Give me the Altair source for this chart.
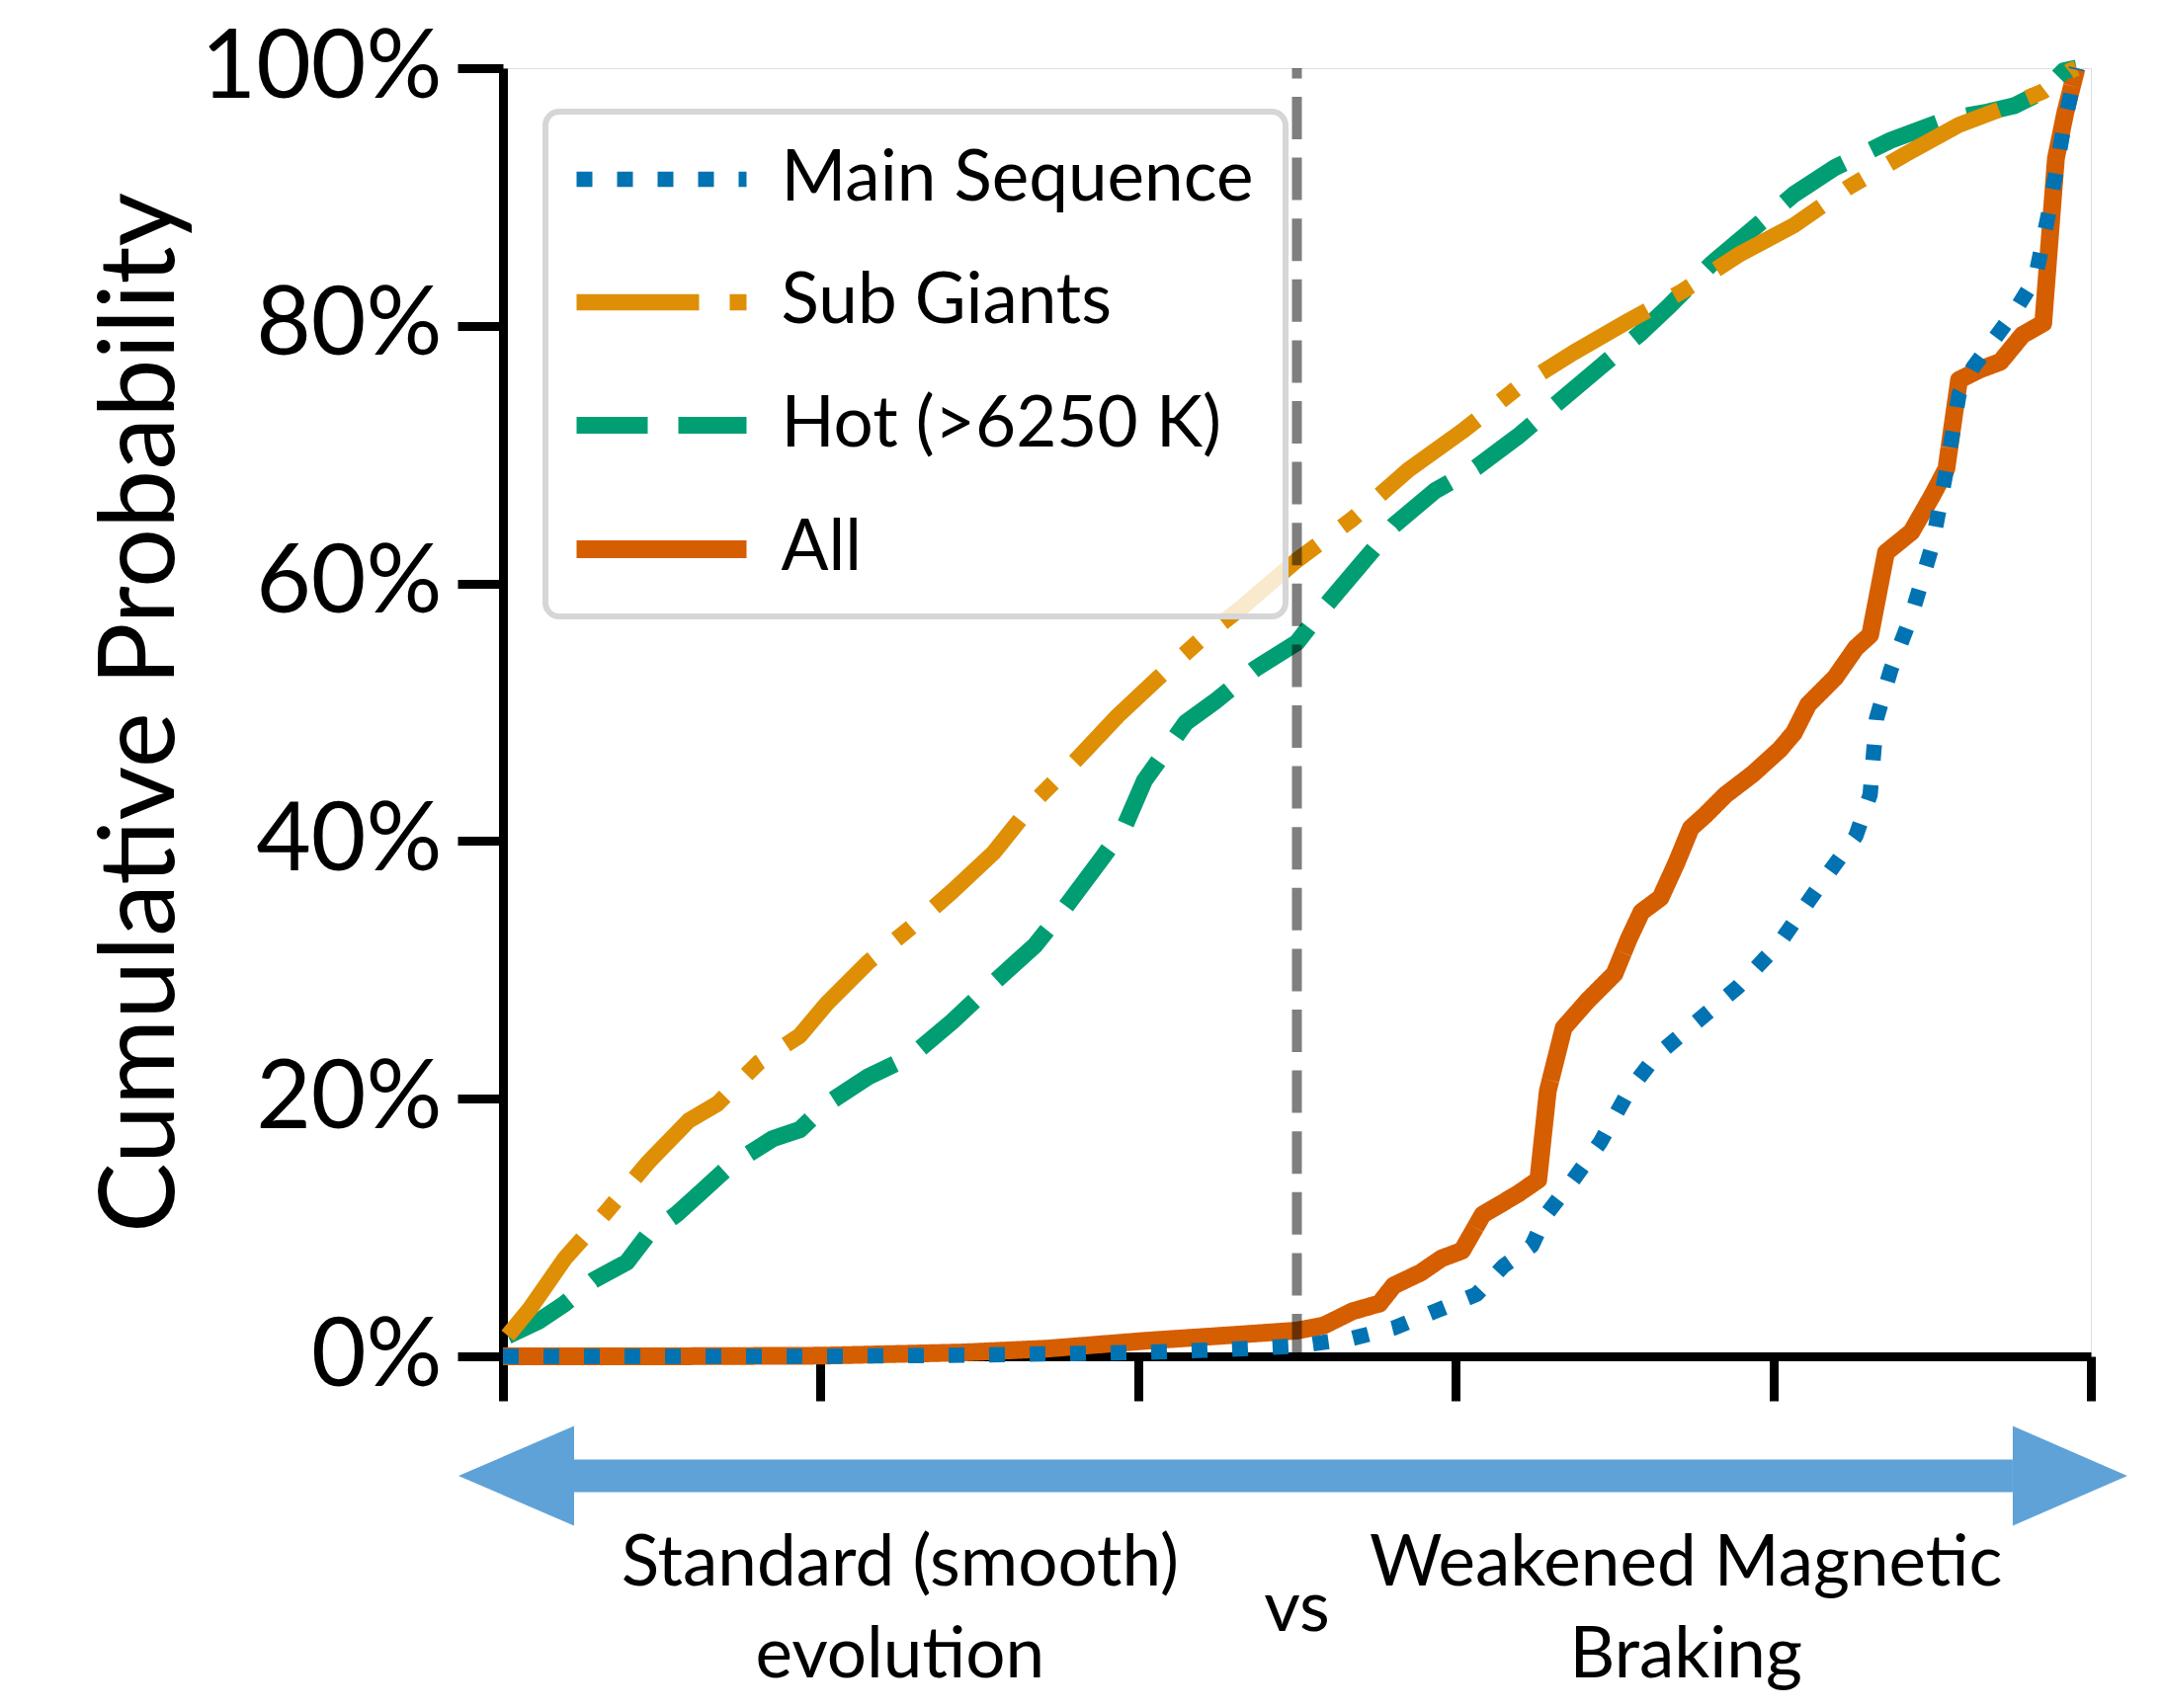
import altair as alt
import pandas as pd

# ---------------- data ----------------
series_order = ["Main Sequence", "Sub Giants", "Hot (>6250 K)", "All"]
series_colors = ["#0173b2", "#de8f05", "#029e73", "#d55e00"]

ms_x = [0.0, 0.1, 0.2, 0.3, 0.4, 0.45, 0.5, 0.535, 0.561, 0.587, 0.613, 0.63, 0.648, 0.657,
        0.674, 0.691, 0.709, 0.726, 0.752, 0.778, 0.804, 0.83, 0.852, 0.861, 0.865, 0.874,
        0.887, 0.9, 0.909, 0.917, 0.926, 0.952, 0.965, 0.974, 0.983, 0.991]
ms_y = [0.0, 0.0, 0.0, 0.1, 0.3, 0.5, 0.8, 1.4, 2.2, 3.5, 4.8, 7.0, 8.6, 11.0,
        13.7, 16.6, 20.6, 23.3, 26.0, 28.7, 32.1, 36.7, 40.4, 43.6, 49.5, 53.3,
        57.5, 62.9, 68.8, 74.7, 76.8, 81.1, 83.7, 89.1, 95.5, 100.0]

sg_x = [0.003, 0.017, 0.039, 0.065, 0.091, 0.117, 0.135, 0.161, 0.187, 0.204, 0.23, 0.257,
        0.283, 0.309, 0.335, 0.361, 0.387, 0.413, 0.439, 0.465, 0.5, 0.535, 0.57, 0.604,
        0.639, 0.674, 0.709, 0.743, 0.778, 0.813, 0.848, 0.883, 0.917, 0.943, 0.97, 0.987, 0.991]
sg_y = [1.6, 3.7, 7.6, 11.2, 15.0, 18.3, 19.6, 22.8, 24.9, 27.4, 30.6, 33.3,
        36.1, 39.1, 43.1, 46.3, 49.7, 52.7, 55.6, 58.1, 61.8, 65.0, 68.8, 71.8,
        75.2, 77.9, 80.4, 82.7, 85.5, 87.8, 90.8, 93.3, 95.6, 96.8, 98.2, 99.8, 100.0]

hot_x = [0.003, 0.022, 0.039, 0.057, 0.078, 0.091, 0.109, 0.126, 0.143, 0.17, 0.187, 0.204,
         0.23, 0.257, 0.283, 0.309, 0.335, 0.352, 0.378, 0.391, 0.404, 0.43, 0.448, 0.474,
         0.5, 0.517, 0.539, 0.561, 0.587, 0.613, 0.639, 0.665, 0.691, 0.717, 0.735, 0.761,
         0.787, 0.813, 0.839, 0.874, 0.909, 0.935, 0.952, 0.97, 0.983, 0.991]
hot_y = [1.6, 2.7, 4.1, 5.9, 7.3, 9.4, 11.0, 12.9, 14.8, 16.9, 17.6, 19.6,
         21.7, 23.3, 26.0, 29.0, 31.9, 34.5, 38.8, 41.0, 44.7, 49.2, 50.8, 53.4,
         55.4, 58.1, 61.3, 64.5, 67.2, 69.0, 71.4, 74.1, 76.8, 79.5, 81.6, 84.8,
         87.5, 90.2, 92.3, 94.4, 96.0, 96.6, 97.1, 98.2, 99.8, 100.0]

all_x = [0.0, 0.1, 0.2, 0.29, 0.343, 0.404, 0.465, 0.5, 0.517, 0.535, 0.552, 0.561, 0.578,
         0.591, 0.604, 0.617, 0.639, 0.652, 0.658, 0.668, 0.683, 0.7, 0.709, 0.717, 0.729,
         0.739, 0.748, 0.757, 0.77, 0.787, 0.804, 0.813, 0.822, 0.839, 0.852, 0.861, 0.871,
         0.887, 0.9, 0.909, 0.917, 0.93, 0.943, 0.957, 0.97, 0.978, 0.984, 0.991]
all_y = [0.0, 0.0, 0.05, 0.3, 0.6, 1.2, 1.7, 2.0, 2.4, 3.5, 4.1, 5.5, 6.5,
         7.6, 8.2, 11.0, 12.6, 13.7, 20.6, 25.5, 27.6, 29.7, 32.4, 34.5, 35.6,
         38.3, 41.0, 42.0, 43.6, 45.2, 47.1, 48.4, 50.6, 52.7, 55.0, 56.0, 62.4,
         64.0, 66.8, 68.9, 75.8, 76.6, 77.2, 79.3, 80.2, 93.0, 96.6, 100.0]

x_ticks = [0.0, 0.2, 0.4, 0.6, 0.8, 1.0]
y_ticks = [0.0, 0.2, 0.4, 0.6, 0.8, 1.0]
divider_x = 0.5

# annotation texts below the axis
note_labels = ["Standard (smooth)\nevolution", "vs", "Weakened Magnetic\nBraking"]
note_x = [0.25, 0.5, 0.745]
note_y = [-0.178, -0.213, -0.178]

arrow_y = -0.0928
arrow_left_base = 0.0448
arrow_right_base = 0.9508

# ---------------- build table ----------------
rows = []
# drawing order: All first, Main Sequence last (on top)
for name, xs, ys in [("All", all_x, all_y), ("Hot (>6250 K)", hot_x, hot_y),
                     ("Sub Giants", sg_x, sg_y), ("Main Sequence", ms_x, ms_y)]:
    for xv, yv in zip(xs, ys):
        rows.append({"series": name, "x": xv, "y": yv / 100.0})
df = pd.DataFrame(rows)

FONT = "Lato"
x_scale = alt.Scale(domain=[0, 1], nice=False, zero=False)
y_scale = alt.Scale(domain=[0, 1], nice=False, zero=False)

x_axis = alt.Axis(values=x_ticks, labels=False, title=None, grid=False,
                  domainColor="black", domainWidth=9, tickColor="black",
                  tickWidth=9, tickSize=45)
y_axis = alt.Axis(values=y_ticks, format=".0%", title="Cumulative Probability",
                  grid=False, domainColor="black", domainWidth=9, tickColor="black",
                  tickWidth=9, tickSize=46, labelFont=FONT, labelFontSize=96,
                  labelColor="black", labelPadding=16, labelBaseline="middle",
                  labelLimit=600,
                  titleFont=FONT, titleFontSize=106, titleFontWeight="normal",
                  titleColor="black", titleX=-334, titleY=652, titleAngle=270,
                  titleAlign="center", titleBaseline="alphabetic")

X = alt.X("x:Q", scale=x_scale, axis=x_axis)
Y = alt.Y("y:Q", scale=y_scale, axis=y_axis)

legend = alt.Legend(
    title=None, orient="none", legendX=43, legendY=44,
    symbolType="M-3,0L3,0", symbolSize=3287, symbolStrokeWidth=19,
    symbolOffset=47.5, labelOffset=83, rowPadding=52, padding=32,
    labelFont=FONT, labelFontSize=71, labelColor="black", labelBaseline="middle",
    labelLimit=0, fillColor="rgba(255,255,255,0.8)", strokeColor="#d6d6d6",
    cornerRadius=14, symbolDashOffset=0,
)

lines = alt.Chart(df).mark_line(strokeCap="butt", strokeJoin="round").encode(
    x=X, y=Y,
    color=alt.Color("series:N", scale=alt.Scale(domain=series_order, range=series_colors),
                    legend=legend),
    strokeDash=alt.StrokeDash("series:N", scale=alt.Scale(
        domain=series_order,
        range=[[16, 25], [124, 31, 19.4, 31], [72, 31], [1, 0]]), legend=legend),
    strokeWidth=alt.StrokeWidth("series:N", scale=alt.Scale(
        domain=series_order, range=[15.5, 18, 18, 18]), legend=None),
)

divider = alt.Chart(pd.DataFrame({"x": [divider_x], "y": [0.0], "y2": [1.0]})).mark_rule(
    color="black", opacity=0.5, strokeWidth=10, strokeDash=[43, 18.6], strokeCap="butt"
).encode(x=X, y=Y, y2="y2:Q")

ARROW = "#5fa2d7"
shaft = alt.Chart(pd.DataFrame({"x": [arrow_left_base], "x2": [arrow_right_base],
                                "y": [arrow_y]})).mark_rule(
    color=ARROW, strokeWidth=33, strokeCap="butt"
).encode(x=X, x2="x2:Q", y=Y)

head_left = alt.Chart(pd.DataFrame({"x": [arrow_left_base], "y": [arrow_y]})).mark_point(
    shape="M0,-1L0,1L-2.317,0Z", size=10201, filled=True, fill=ARROW, opacity=1,
    strokeWidth=0
).encode(x=X, y=Y)

head_right = alt.Chart(pd.DataFrame({"x": [arrow_right_base], "y": [arrow_y]})).mark_point(
    shape="M0,-1L0,1L2.297,0Z", size=10201, filled=True, fill=ARROW, opacity=1,
    strokeWidth=0
).encode(x=X, y=Y)

notes = alt.Chart(pd.DataFrame({"x": note_x, "y": note_y, "label": note_labels})).mark_text(
    font=FONT, fontSize=71, color="black", align="center", baseline="alphabetic",
    lineBreak="\n", lineHeight=93
).encode(x=X, y=Y, text="label:N")

chart = alt.layer(lines, divider, shaft, head_left, head_right, notes).properties(
    width=1607, height=1304,
    autosize=alt.AutoSizeParams(type="none"),
    padding={"left": 501, "top": 61, "right": 60, "bottom": 340},
).configure_view(stroke=None).configure(background="white").configure_legend(strokeWidth=6)

chart.save("out.html", embed_options={"renderer": "svg", "actions": False})
